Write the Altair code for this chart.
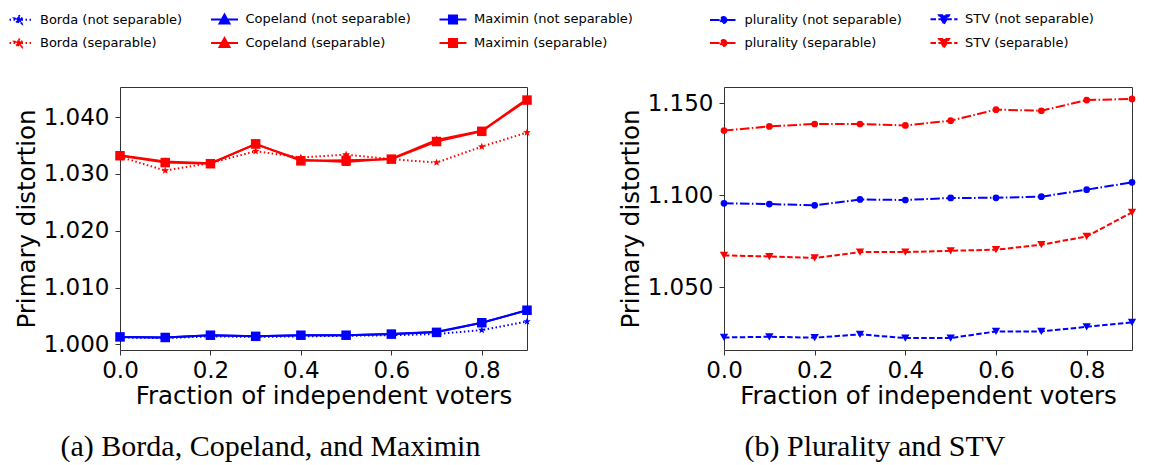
import math
import altair as alt
import pandas as pd

# ---------------- data ----------------
x_vals = [0.0, 0.1, 0.2, 0.3, 0.4, 0.5, 0.6, 0.7, 0.8, 0.9]

borda_ns = [1.0012, 1.0011, 1.0014, 1.0013, 1.0014, 1.0015, 1.0016, 1.0018, 1.0025, 1.0040]
borda_s = [1.0330, 1.0306, 1.0319, 1.0340, 1.0329, 1.0334, 1.0326, 1.0320, 1.0348, 1.0373]
copeland_ns = [1.0013, 1.0012, 1.0016, 1.0014, 1.0016, 1.0016, 1.0018, 1.0022, 1.0038, 1.0060]
copeland_s = [1.0333, 1.0322, 1.0319, 1.0352, 1.0325, 1.0321, 1.0327, 1.0360, 1.0376, 1.0432]
maximin_ns = [1.0013, 1.0012, 1.0016, 1.0014, 1.0016, 1.0016, 1.0018, 1.0021, 1.0038, 1.0060]
maximin_s = [1.0332, 1.0320, 1.0318, 1.0353, 1.0323, 1.0324, 1.0326, 1.0357, 1.0375, 1.0430]
plurality_ns = [1.0957, 1.0953, 1.0946, 1.0978, 1.0975, 1.0986, 1.0987, 1.0993, 1.1031, 1.1071]
plurality_s = [1.1352, 1.1375, 1.1388, 1.1388, 1.1380, 1.1406, 1.1466, 1.1460, 1.1518, 1.1524]
stv_ns = [1.0228, 1.0232, 1.0227, 1.0245, 1.0225, 1.0225, 1.0261, 1.0261, 1.0286, 1.0310]
stv_s = [1.0674, 1.0668, 1.0660, 1.0692, 1.0692, 1.0699, 1.0705, 1.0732, 1.0777, 1.0908]

left_methods = ["Borda", "Copeland", "Maximin"]
right_methods = ["plurality", "STV"]
seps = ["not separable", "separable"]
series_values = {
    ("Borda", "not separable"): borda_ns,
    ("Borda", "separable"): borda_s,
    ("Copeland", "not separable"): copeland_ns,
    ("Copeland", "separable"): copeland_s,
    ("Maximin", "not separable"): maximin_ns,
    ("Maximin", "separable"): maximin_s,
    ("plurality", "not separable"): plurality_ns,
    ("plurality", "separable"): plurality_s,
    ("STV", "not separable"): stv_ns,
    ("STV", "separable"): stv_s,
}

x_ticks = [0.0, 0.2, 0.4, 0.6, 0.8]
y_ticks_left = [1.000, 1.010, 1.020, 1.030, 1.040]
y_ticks_right = [1.050, 1.100, 1.150]

x_title = "Fraction of independent voters"
y_title = "Primary distortion"
caption_left = "(a) Borda, Copeland, and Maximin"
caption_right = "(b) Plurality and STV"

rows = []
for (m, s), vals in series_values.items():
    for xv, yv in zip(x_vals, vals):
        rows.append({"method": m, "sep": s, "series": f"{m} ({s})", "x": xv, "y": yv})
df = pd.DataFrame(rows)

# ---------------- styles ----------------
BLUE = "#0000ff"
RED = "#ff0000"
FONT = "DejaVu Sans"
SERIF = "Liberation Serif"

dashes = {
    "Borda": [1.5, 2.5],
    "Copeland": None,
    "Maximin": None,
    "plurality": [9.6, 2.4, 1.5, 2.4],
    "STV": [5.5, 2.4],
}


def poly_path(radii, n, start=-math.pi / 2):
    pts = []
    for k in range(n):
        r = radii[k % len(radii)]
        a = start + k * 2 * math.pi / n
        pts.append(f"{r*math.cos(a):.3f},{r*math.sin(a):.3f}")
    return "M" + "L".join(pts) + "Z"


STAR = poly_path([1.0, 0.42], 10)
point_shape = {
    "Borda": (STAR, 64),
    "Copeland": ("triangle-up", 90),
    "Maximin": ("square", 90),
    "plurality": ("circle", 45),
    "STV": ("triangle-down", 70),
}

# legend symbol: line segment + marker, unit = 9 px (symbolSize 324)
LINE = "M-1.5,0L1.5,0"
legend_marker = {
    "Borda": poly_path([0.5, 0.21], 10),
    "Copeland": "M0,-0.55L0.55,0.45L-0.55,0.45Z",
    "Maximin": "M-0.45,-0.45L0.45,-0.45L0.45,0.45L-0.45,0.45Z",
    "plurality": poly_path([0.33], 16),
    "STV": "M0,0.5L0.55,-0.45L-0.55,-0.45Z",
}


def x_enc():
    return alt.X(
        "x:Q",
        scale=alt.Scale(domain=[0, 0.9], nice=False, zero=False),
        axis=alt.Axis(values=x_ticks, format=".1f", title=x_title),
    )


def y_enc(domain, ticks):
    return alt.Y(
        "y:Q",
        scale=alt.Scale(domain=domain, nice=False, zero=False),
        axis=alt.Axis(values=ticks, format=".3f", title=y_title),
    )


color_enc = alt.Color(
    "sep:N", scale=alt.Scale(domain=seps, range=[BLUE, RED]), legend=None
)


def padded(vals):
    lo, hi = min(vals), max(vals)
    p = 0.05 * (hi - lo)
    return [lo - p, hi + p]


def legend_layer(ms, legend_x):
    dom = [f"{m} ({s})" for s in seps for m in ms]
    cols = [BLUE if "not" in d else RED for d in dom]
    shapes = [LINE + legend_marker[d.split(" ")[0]] for d in dom]
    dsh = [dashes[d.split(" ")[0]] or [1, 0] for d in dom]
    props = dict(
        orient="none",
        legendX=legend_x,
        legendY=-78,
        direction="horizontal",
        columns=len(ms),
        symbolSize=324,
        symbolStrokeWidth=2,
        labelFont=FONT,
        labelFontSize=13,
        labelLimit=500,
        labelColor="black",
        labelOffset=11,
        columnPadding=23.5,
        rowPadding=5,
    )
    return (
        alt.Chart(df)
        .transform_filter(alt.FieldOneOfPredicate(field="method", oneOf=ms))
        .mark_point(opacity=1, strokeWidth=2, size=0)
        .encode(
            fill=alt.Fill("series:N", title=None, scale=alt.Scale(domain=dom, range=cols), legend=alt.Legend(**props)),
            stroke=alt.Stroke("series:N", title=None, scale=alt.Scale(domain=dom, range=cols), legend=alt.Legend(**props)),
            shape=alt.Shape("series:N", title=None, scale=alt.Scale(domain=dom, range=shapes), legend=alt.Legend(**props)),
            strokeDash=alt.StrokeDash("series:N", title=None, scale=alt.Scale(domain=dom, range=dsh), legend=alt.Legend(**props)),
        )
    )


def panel(ms, ticks, legend_x, caption, width):
    vals = [v for m in ms for s in seps for v in series_values[(m, s)]]
    domain = padded(vals)
    layers = []
    for m in ms:
        base = (
            alt.Chart(df)
            .transform_filter(alt.datum.method == m)
            .encode(x=x_enc(), y=y_enc(domain, ticks), color=color_enc)
        )
        if dashes[m]:
            line = base.mark_line(strokeWidth=2, strokeDash=dashes[m])
        else:
            line = base.mark_line(strokeWidth=2)
        shp, sz = point_shape[m]
        pts = base.mark_point(shape=shp, size=sz, filled=True, opacity=1)
        layers += [line, pts]
    layers.append(legend_layer(ms, legend_x))
    return alt.layer(*layers).properties(
        width=width,
        height=263,
        title=alt.TitleParams(
            text=caption,
            orient="bottom",
            anchor="middle",
            frame="group",
            dx=-53,
            font=SERIF,
            fontSize=30,
            fontWeight="normal",
            color="black",
            offset=24,
        ),
    )


left = panel(left_methods, y_ticks_left, -111, caption_left, 407)
right = panel(right_methods, y_ticks_right, -10.5, caption_right, 408)

chart = (
    alt.hconcat(left, right, spacing=197, bounds="flush")
    .resolve_scale(fill="independent", stroke="independent", shape="independent", strokeDash="independent")
    .properties(padding=0, background="white")
    .configure_view(stroke="#333333", strokeWidth=1)
    .configure_legend(labelFont=FONT, labelFontSize=13, labelLimit=500, labelColor="black")
    .configure_axis(
        grid=False,
        domain=False,
        labelFont=FONT,
        titleFont=FONT,
        labelFontSize=23,
        titleFontSize=24.5,
        titleFontWeight="normal",
        labelColor="black",
        titleColor="black",
        tickColor="#333333",
        tickSize=5,
        labelFlush=False,
        labelOverlap=False,
    )
    .configure_axisX(labelPadding=4, titlePadding=2)
    .configure_axisY(labelPadding=6, titlePadding=4)
)

chart.save("out.html", embed_options={"renderer": "svg", "actions": False})
